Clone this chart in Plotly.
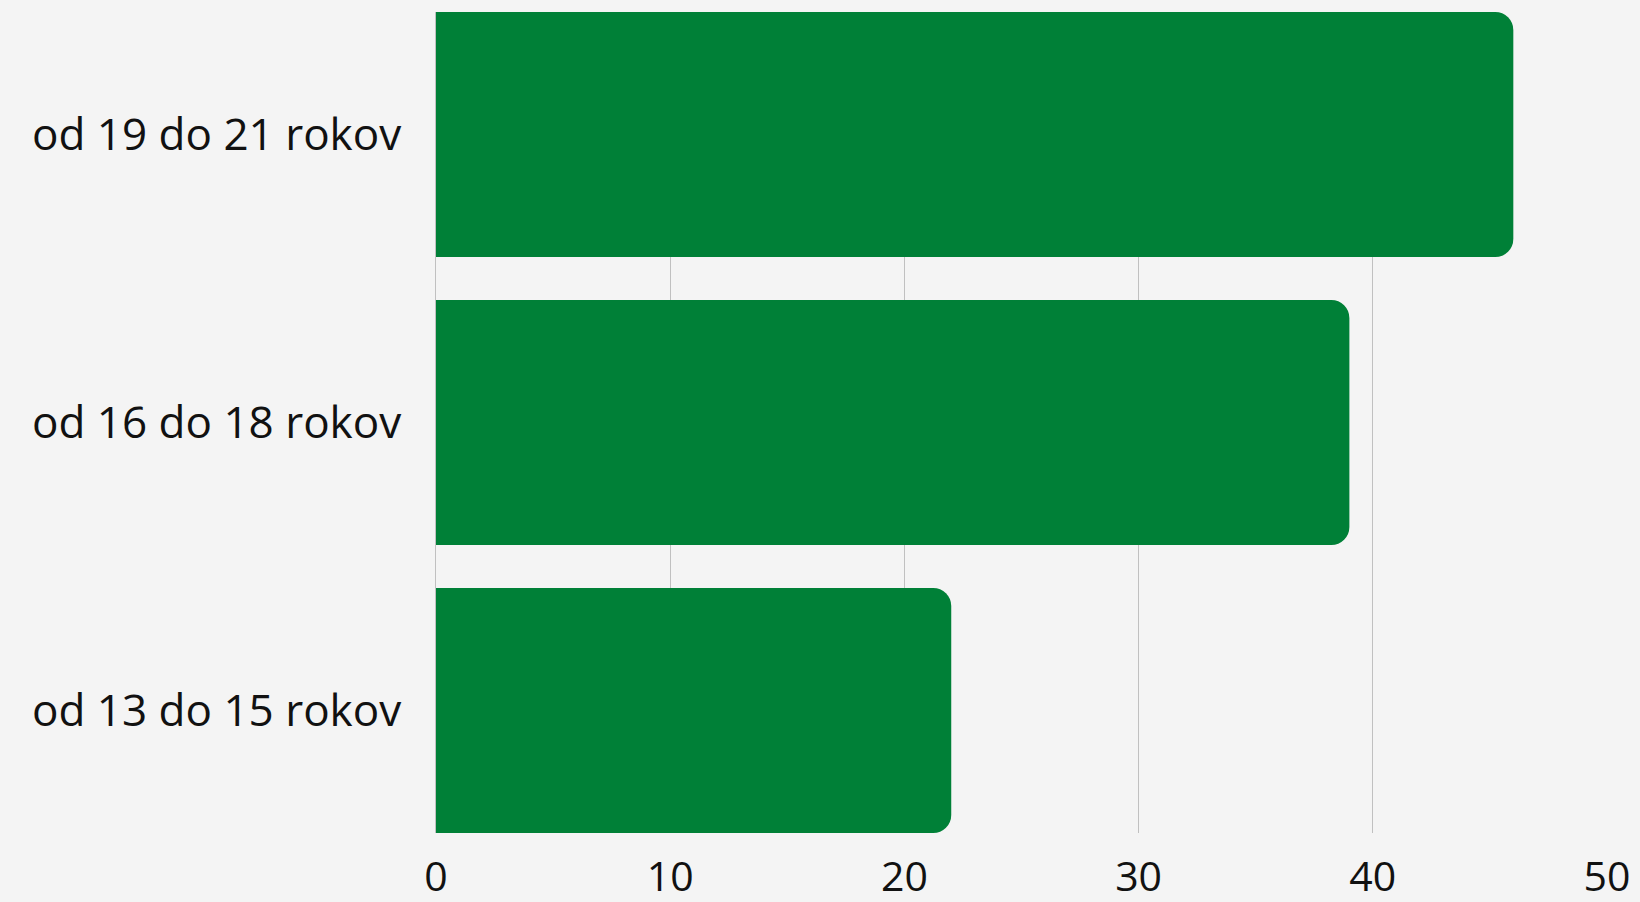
import plotly.graph_objects as go

categories = ["od 13 do 15 rokov", "od 16 do 18 rokov", "od 19 do 21 rokov"]
values = [22, 39, 46]
x_ticks = [0, 10, 20, 30, 40, 50]

fig = go.Figure(go.Bar(
    x=values, y=categories, orientation="h",
    marker=dict(color="#008037", line=dict(width=0)),
    hoverinfo="skip",
))

fig.update_layout(
    width=1640, height=902,
    paper_bgcolor="#f4f4f4", plot_bgcolor="#f4f4f4",
    margin=dict(l=436, r=33, t=12, b=69),
    bargap=0.149,
    barcornerradius=18,
    showlegend=False,
    font=dict(family="Open Sans", color="#111111"),
)
fig.update_xaxes(
    range=[0, 50], tickvals=x_ticks, ticktext=[str(v) for v in x_ticks],
    showgrid=True, gridcolor="#c0c0c0", gridwidth=1,
    zeroline=False, showline=False, automargin=False,
    ticks="outside", ticklen=8, tickcolor="rgba(0,0,0,0)",
    tickfont=dict(size=41, family="Open Sans", color="#111111"),
)
fig.update_yaxes(
    categoryorder="array", categoryarray=categories,
    range=[-0.4255, 2.4255], automargin=False,
    showgrid=False, zeroline=False,
    showline=True, linecolor="#c0c0c0", linewidth=1,
    ticks="outside", ticklen=25, tickcolor="rgba(0,0,0,0)",
    tickfont=dict(size=44, family="Open Sans", color="#111111"),
)

fig.write_html(
    "out.html",
    config={"displayModeBar": False},
    post_script="document.body.style.margin='0';document.body.style.background='#f4f4f4';",
)
